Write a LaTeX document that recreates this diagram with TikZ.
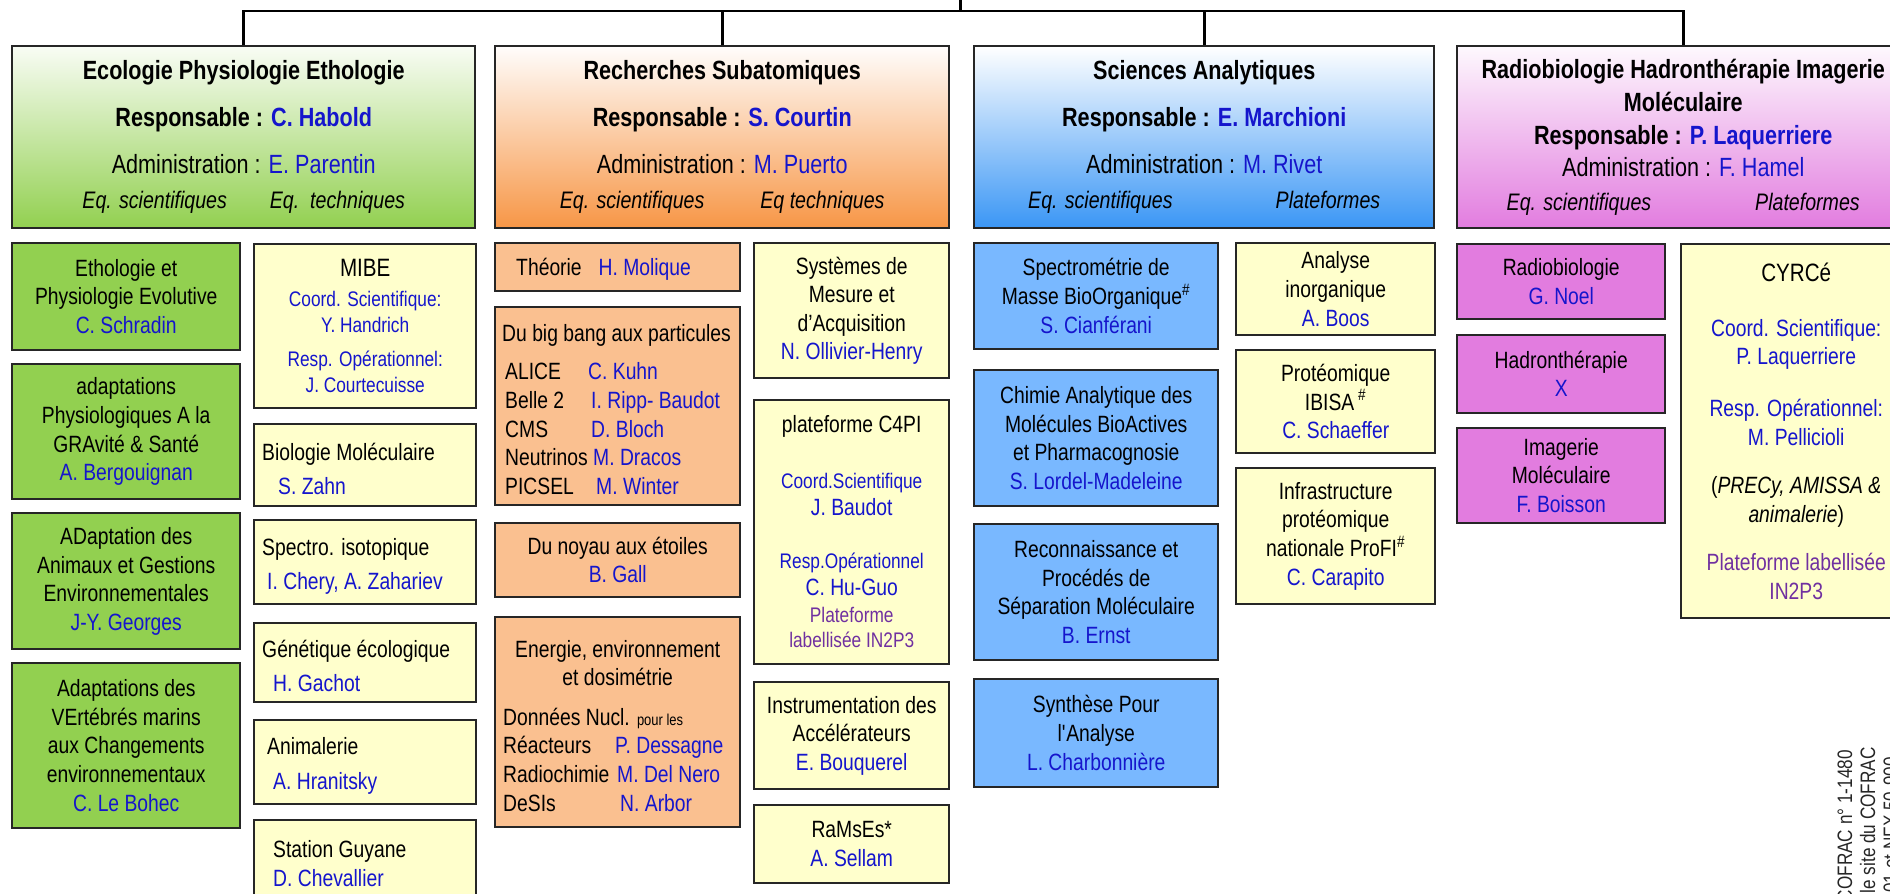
\documentclass[tikz,border=0pt]{standalone}
\usepackage{fontspec}
\setmainfont{Liberation Sans}[FakeStretch=0.82]
\setlength{\parindent}{0pt}

\definecolor{vert}{HTML}{92D050}
\definecolor{orfonce}{HTML}{F79646}
\definecolor{orclair}{HTML}{FAC090}
\definecolor{blfonce}{HTML}{3A96F5}
\definecolor{blclair}{HTML}{79B8FF}
\definecolor{rose}{HTML}{E27CDF}
\definecolor{jaune}{HTML}{FFFFCC}
\definecolor{nomcol}{HTML}{1515CC}
\definecolor{labcol}{HTML}{7030A0}

\newlength{\pxu}
\setlength{\pxu}{0.02cm}
\newcommand{\pers}[1]{\textcolor{nomcol}{#1}}
\newcommand{\hdsz}{\fontsize{15}{17}\selectfont}
\newcommand{\mainsz}{\fontsize{13.4}{16.3}\selectfont}
\newcommand{\smsz}{\fontsize{12}{14.5}\selectfont}
\newcommand{\bigsz}{\fontsize{14.3}{17}\selectfont}
\newcommand{\itsz}{\fontsize{13.6}{16}\selectfont}
\newcommand{\tinysz}{\fontsize{9}{10}\selectfont}
\newcommand{\cofsz}{\fontsize{11.9}{14}\selectfont}

\tikzset{
	boxht/.initial=14pt,
	boxdp/.initial=0.4pt,
	wh/.style 2 args={minimum width=#1\pxu, minimum height=#2\pxu},
	cadre/.style={draw=black!85, line width=1.4pt, anchor=north west, inner sep=0pt,
		execute at begin node={\vrule width 0pt height \pgfkeysvalueof{/tikz/boxht} depth 0pt},
		execute at end node={\vrule width 0pt height 0pt depth \pgfkeysvalueof{/tikz/boxdp}}},
	pole/.style={cadre, align=center, font=\hdsz, boxht=17pt, boxdp=3pt},
	equipe/.style={cadre, align=center, font=\mainsz},
	gauche/.style={cadre, align=flush left, text width=#1\pxu, font=\mainsz},
	lien/.style={line width=1.7pt, black},
	cofrac/.style={rotate=90, anchor=base east, inner sep=0pt, font=\cofsz, text=black!85}
}

\begin{document}
\begin{tikzpicture}[x=0.02cm, y=-0.02cm]
	\useasboundingbox (0,0) rectangle (1890,893);
	\clip (0,0) rectangle (1890,893);
	
	\node [pole, top color=vert!6, bottom color=vert, wh={463}{182}] (ecol) at (11,45)
	{\textbf{Ecologie Physiologie Ethologie}\\[9.4pt]
		\textbf{Responsable : \pers{C. Habold}}\\[10.2pt]
		Administration : \pers{E. Parentin}\\[2.8pt]
		{\itsz\itshape Eq. scientifiques\hspace{43\pxu}Eq.\ \ techniques}};
	
	\node [pole, top color=orfonce!2, bottom color=orfonce, wh={454}{182}] (subat) at (494,45)
	{\textbf{Recherches Subatomiques}\\[9.4pt]
		\textbf{Responsable : \pers{S. Courtin}}\\[10.2pt]
		Administration : \pers{M. Puerto}\\[2.8pt]
		{\itsz\itshape Eq. scientifiques\hspace{56\pxu}Eq techniques}};
	
	\node [pole, top color=white, bottom color=blfonce, wh={460}{182}] (analyt) at (973,45)
	{\textbf{Sciences Analytiques}\\[9.4pt]
		\textbf{Responsable : \pers{E. Marchioni}}\\[10.2pt]
		Administration : \pers{M. Rivet}\\[2.8pt]
		{\itsz\itshape Eq. scientifiques\hspace{103\pxu}Plateformes}};
	
	\node [pole, top color=rose!5, bottom color=rose, wh={452}{182}, boxht=22pt, boxdp=2pt] (radio) at (1456,45)
	{\textbf{Radiobiologie Hadronthérapie Imagerie}\\[1.7pt]
		\textbf{Moléculaire}\\[1.8pt]
		\textbf{Responsable : \pers{P. Laquerriere}}\\[1.3pt]
		Administration : \pers{F. Hamel}\\[2.6pt]
		{\itsz\itshape Eq. scientifiques\hspace{104\pxu}Plateformes}};
	
	\coordinate (top) at (960,0);
	\coordinate (bus) at (960,11);
	\draw [lien] (top) -- (bus);
	\draw [lien] (ecol.north) -- (ecol.north |- bus) -- (radio.north |- bus) -- (radio.north);
	\foreach \p in {subat, analyt}
	\draw [lien] (\p.north) -- (\p.north |- bus);
	
	\foreach \nom/\y/\h/\txt in {
		ethol/242/107/{Ethologie et\\Physiologie Evolutive\\\pers{C. Schradin}},
		grav/363/135/{adaptations\\Physiologiques A la\\GRAvité \& Santé\\\pers{A. Bergouignan}},
		adage/512/136/{ADaptation des\\Animaux et Gestions\\Environnementales\\\pers{J-Y. Georges}},
		avec/662/165/{Adaptations des\\VErtébrés marins\\aux Changements\\environnementaux\\\pers{C. Le Bohec}}}
	\node [equipe, fill=vert, wh={228}{\h}] (\nom) at (11,\y) {\txt};
	
	\node [equipe, fill=jaune, wh={222}{164}] (mibe) at (253,243)
	{{\bigsz MIBE}\\[0.7pt]
		{\smsz\pers{Coord. Scientifique:}}\\[-1.6pt]
		{\smsz\pers{Y. Handrich}}\\[3.5pt]
		{\smsz\pers{Resp. Opérationnel:}}\\[-1.6pt]
		{\smsz\pers{J. Courtecuisse}}};
	\node [gauche=222, fill=jaune, wh={222}{82}] (biomol) at (253,423)
	{\hspace*{8\pxu}Biologie Moléculaire\\[3pt]\hspace*{24\pxu}\pers{S. Zahn}};
	\node [gauche=222, fill=jaune, wh={222}{84}] (spectro) at (253,519)
	{\hspace*{8\pxu}Spectro. isotopique\\[3pt]\hspace*{13\pxu}\pers{I. Chery, A. Zahariev}};
	\node [gauche=222, fill=jaune, wh={222}{79}] (genet) at (253,622)
	{\hspace*{8\pxu}Génétique écologique\\[3pt]\hspace*{19\pxu}\pers{H. Gachot}};
	\node [gauche=222, fill=jaune, wh={222}{84}] (anim) at (253,719)
	{\hspace*{13\pxu}Animalerie\\[4pt]\hspace*{19\pxu}\pers{A. Hranitsky}};
	\node [gauche=222, fill=jaune, wh={222}{80}] (guyane) at (253,819)
	{\hspace*{19\pxu}Station Guyane\\\hspace*{19\pxu}\pers{D. Chevallier}};
	
	\node [gauche=245, fill=orclair, wh={245}{48}, boxdp=5pt] (theorie) at (494,242)
	{\hspace*{21\pxu}Théorie\hspace{17\pxu}\pers{H. Molique}};
	\node [gauche=245, fill=orclair, wh={245}{198}] (bigbang) at (494,306)
	{\hspace*{7\pxu}\mbox{Du big bang aux particules}\\[5.3pt]
		\hspace*{10\pxu}\makebox[83\pxu][l]{ALICE}\pers{C. Kuhn}\\
		\hspace*{10\pxu}\makebox[86\pxu][l]{Belle 2}\pers{I. Ripp- Baudot}\\
		\hspace*{10\pxu}\makebox[86\pxu][l]{CMS}\pers{D. Bloch}\\
		\hspace*{10\pxu}Neutrinos \pers{M. Dracos}\\
		\hspace*{10\pxu}\makebox[91\pxu][l]{PICSEL}\pers{M. Winter}};
	\node [equipe, fill=orclair, wh={245}{74}] (noyau) at (494,522)
	{Du noyau aux étoiles\\\pers{B. Gall}};
	\node [gauche=245, fill=orclair, wh={245}{210}] (energie) at (494,616)
	{\makebox[245\pxu][c]{Energie, environnement}\\
		\makebox[245\pxu][c]{et dosimétrie}\\[6.2pt]
		\hspace*{8\pxu}Données Nucl. {\tinysz pour les}\\
		\hspace*{8\pxu}\makebox[112\pxu][l]{Réacteurs}\pers{P. Dessagne}\\
		\hspace*{8\pxu}\makebox[114\pxu][l]{Radiochimie}\pers{M. Del Nero}\\
		\hspace*{8\pxu}\makebox[117\pxu][l]{DeSIs}\pers{N. Arbor}};
	
	\node [equipe, fill=jaune, wh={195}{135}] (mesure) at (753,242)
	{Systèmes de\\Mesure et\\d’Acquisition\\\pers{N. Ollivier-Henry}};
	\node [equipe, fill=jaune, wh={195}{264}] (cfourpi) at (753,399)
	{plateforme C4PI\\[15.4pt]
		{\smsz\pers{Coord.Scientifique}}\\[-1pt]
		\pers{J. Baudot}\\[13.7pt]
		{\smsz\pers{Resp.Opérationnel}}\\[-1pt]
		\pers{C. Hu-Guo}\\[-1pt]
		{\smsz\textcolor{labcol}{Plateforme}}\\[-1.6pt]
		{\smsz\textcolor{labcol}{labellisée IN2P3}}};
	\node [equipe, fill=jaune, wh={195}{107}] (instru) at (753,681)
	{Instrumentation des\\Accélérateurs\\\pers{E. Bouquerel}};
	\node [equipe, fill=jaune, wh={195}{78}] (ramses) at (753,804)
	{RaMsEs*\\\pers{A. Sellam}};
	
	\foreach \nom/\y/\h/\txt in {
		masse/242/106/{Spectrométrie de\\Masse BioOrganique\textsuperscript{\#}\\\pers{S. Cianférani}},
		chimie/369/136/{Chimie Analytique des\\Molécules BioActives\\et Pharmacognosie\\\pers{S. Lordel-Madeleine}},
		separ/523/136/{Reconnaissance et\\Procédés de\\Séparation Moléculaire\\\pers{B. Ernst}},
		synth/678/108/{Synthèse Pour\\l\textquotesingle Analyse\\\pers{L. Charbonnière}}}
	\node [equipe, fill=blclair, wh={244}{\h}] (\nom) at (973,\y) {\txt};
	
	\foreach \nom/\y/\h/\txt in {
		inorg/242/92/{Analyse\\inorganique\\\pers{A. Boos}},
		ibisa/349/103/{Protéomique\\IBISA\,\textsuperscript{\#}\\\pers{C. Schaeffer}},
		profi/467/136/{Infrastructure\\protéomique\\nationale ProFI\textsuperscript{\#}\\\pers{C. Carapito}}}
	\node [equipe, fill=jaune, wh={199}{\h}] (\nom) at (1235,\y) {\txt};
	
	\foreach \nom/\y/\h/\txt in {
		radiob/243/75/{Radiobiologie\\\pers{G. Noel}},
		hadron/334/78/{Hadronthérapie\\\pers{X}},
		imag/427/95/{Imagerie\\Moléculaire\\\pers{F. Boisson}}}
	\node [equipe, fill=rose, wh={208}{\h}] (\nom) at (1456,\y) {\txt};
	
	\node [equipe, fill=jaune, wh={230}{374}] (cyrce) at (1680,243)
	{{\bigsz CYRCé}\\[14.9pt]
		\pers{Coord. Scientifique:}\\
		\pers{P. Laquerriere}\\[13.2pt]
		\pers{Resp. Opérationnel:}\\
		\pers{M. Pellicioli}\\[11.5pt]
		(\textit{PRECy, AMISSA \&}\\
		\textit{animalerie})\\[10.9pt]
		\textcolor{labcol}{Plateforme labellisée}\\
		\textcolor{labcol}{IN2P3}};
	
	\node [cofrac] (cofa) at (1852,750) {COFRAC n° 1-1480};
	\node [cofrac] (cofb) at (1875,747) {sur le site du COFRAC};
	\node [cofrac] (cofc) at (1898,757) {01 et NFX 50-900};
\end{tikzpicture}
\end{document}
